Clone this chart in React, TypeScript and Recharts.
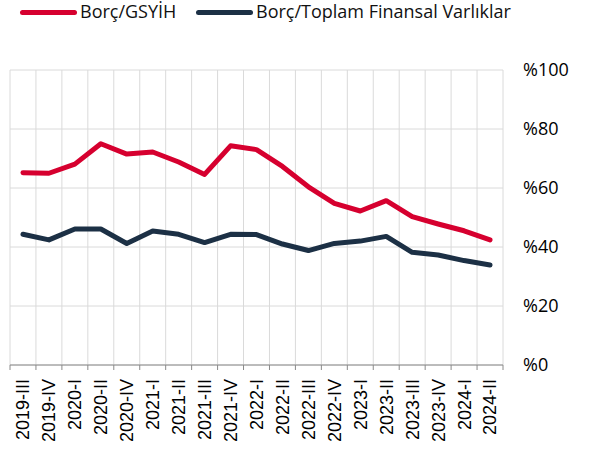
import { CartesianGrid, Line, LineChart, XAxis, YAxis } from 'recharts'

const categories = [
  '2019-III', '2019-IV', '2020-I', '2020-II', '2020-IV', '2021-I', '2021-II', '2021-III', '2021-IV',
  '2022-I', '2022-II', '2022-III', '2022-IV', '2023-I', '2023-II', '2023-III', '2023-IV', '2024-I', '2024-II',
]
const debtToGdp = [65.2, 65.0, 68.1, 75.0, 71.5, 72.2, 68.8, 64.6, 74.3, 73.0, 67.3, 60.4, 54.8, 52.2, 55.7, 50.3, 47.8, 45.5, 42.4]
const debtToAssets = [44.3, 42.4, 46.1, 46.1, 41.2, 45.4, 44.3, 41.5, 44.3, 44.2, 41.0, 38.8, 41.2, 42.0, 43.6, 38.2, 37.3, 35.4, 33.9]
const yTicks = [0, 20, 40, 60, 80, 100]

const RED = '#d6002f'
const NAVY = '#1c3045'

const data = categories.map((label, i) => ({ label, idx: i + 0.5, gdp: debtToGdp[i], assets: debtToAssets[i] }))
// category borders, used for the vertical grid and the axis ticks
const boundaries = [...categories.map((_, i) => i), categories.length]

const EmptyTick = () => <g />

const XTick = ({ x, y, payload }: { x: number; y: number; payload: { value: string } }) => (
  <text
    x={x}
    y={y}
    transform={`rotate(-90 ${x} ${y})`}
    textAnchor="end"
    dy="0.36em"
    fontFamily="'Liberation Sans', Arial, sans-serif"
    fontSize={18}
    fill="#000"
  >
    {payload.value}
  </text>
)

const LegendItem = ({ color, label, left }: { color: string; label: string; left: number }) => (
  <>
    <span
      style={{ position: 'absolute', left, top: 10, width: 57, height: 5, borderRadius: 3, background: color }}
    />
    <span
      style={{
        position: 'absolute',
        left: left + 60,
        top: 1,
        fontSize: 18,
        lineHeight: '20px',
        color: '#111',
        whiteSpace: 'nowrap',
      }}
    >
      {label}
    </span>
  </>
)

export default function App() {
  return (
    <div style={{ position: 'absolute', left: 0, top: 0, width: 591, height: 452, fontFamily: "'Open Sans', sans-serif" }}>
      <LegendItem color={RED} label="Borç/GSYİH" left={20} />
      <LegendItem color={NAVY} label="Borç/Toplam Finansal Varlıklar" left={196} />
      <LineChart width={591} height={452} data={data} margin={{ top: 70, right: 0, bottom: 0, left: 10 }}>
        <XAxis
          xAxisId="grid"
          dataKey="idx"
          type="number"
          domain={[0, categories.length]}
          allowDataOverflow
          ticks={boundaries}
          interval={0}
          height={1}
          tick={EmptyTick}
          tickSize={5}
          tickLine={{ stroke: '#8a8a8a' }}
          axisLine={{ stroke: '#8a8a8a' }}
        />
        <XAxis
          xAxisId="labels"
          dataKey="label"
          scale="band"
          interval={0}
          height={86}
          axisLine={false}
          tickLine={false}
          tickSize={0}
          tickMargin={13}
          tick={XTick}
        />
        <YAxis
          orientation="right"
          width={88}
          domain={[0, 100]}
          ticks={yTicks}
          axisLine={false}
          tickLine={false}
          tickSize={0}
          tickMargin={20}
          tickFormatter={(v: number) => `%${v}`}
          tick={{ fill: '#000', fontSize: 18, fontFamily: "'Open Sans', sans-serif" }}
        />
        <CartesianGrid xAxisId="grid" stroke="#dadada" strokeWidth={1} />
        <Line
          xAxisId="labels"
          dataKey="gdp"
          stroke={RED}
          strokeWidth={5}
          strokeLinecap="round"
          strokeLinejoin="round"
          dot={false}
          isAnimationActive={false}
        />
        <Line
          xAxisId="labels"
          dataKey="assets"
          stroke={NAVY}
          strokeWidth={5}
          strokeLinecap="round"
          strokeLinejoin="round"
          dot={false}
          isAnimationActive={false}
        />
      </LineChart>
    </div>
  )
}
